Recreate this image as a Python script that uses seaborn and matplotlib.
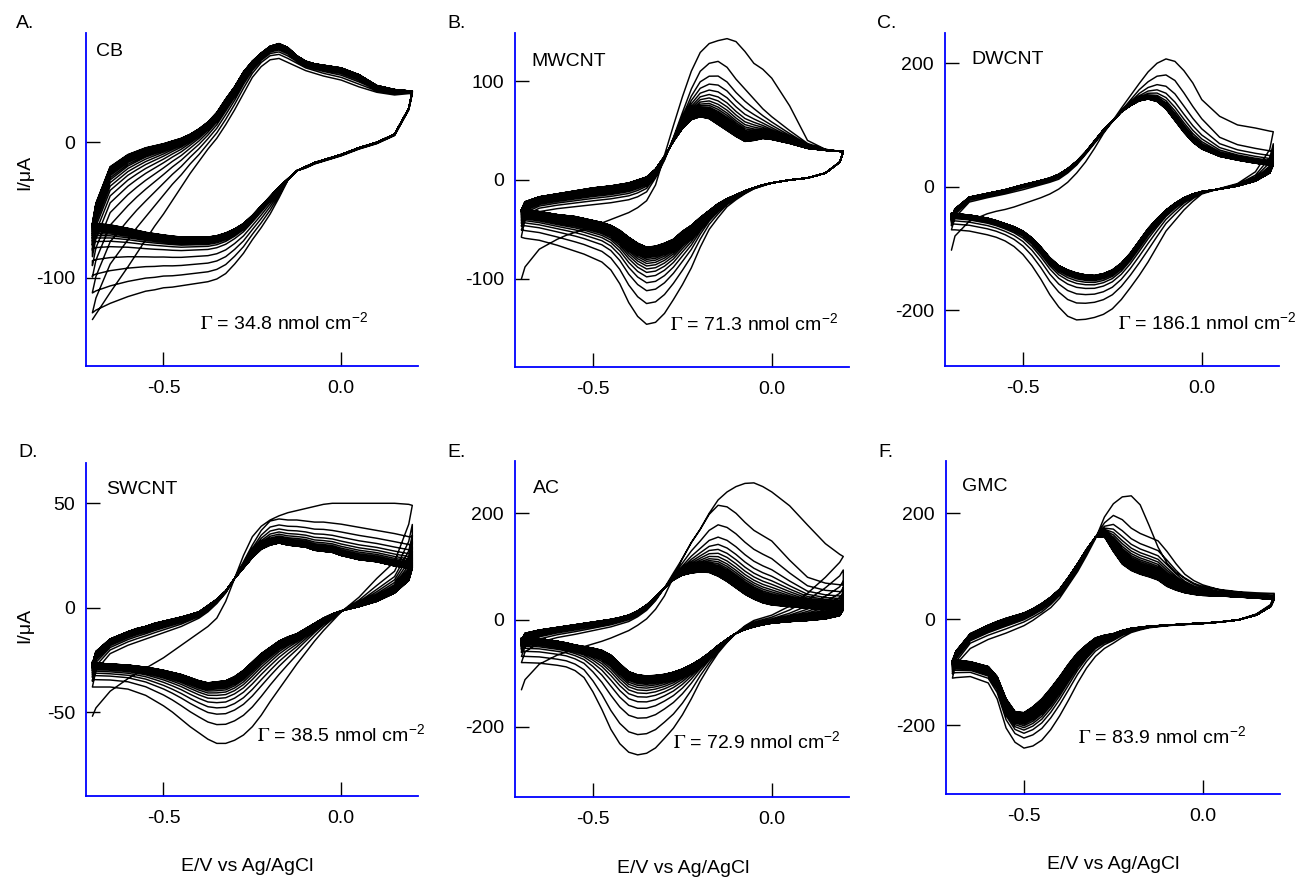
import numpy as np
import matplotlib
matplotlib.use("Agg")
import matplotlib.pyplot as plt
import seaborn as sns

# ---------------- data ----------------
# potential grid (V vs Ag/AgCl); forward sweeps use it as is, reverse sweeps reversed
E_GRID = [-0.70, -0.69, -0.65, -0.60, -0.575, -0.55, -0.525, -0.50, -0.475, -0.45, -0.425,
          -0.40, -0.375, -0.35, -0.325, -0.30, -0.275, -0.25, -0.225, -0.20, -0.175, -0.15,
          -0.125, -0.10, -0.075, -0.05, -0.025, 0.00, 0.05, 0.10, 0.15, 0.19, 0.20]

# A. CB  (currents in uA); *_rev_* lists run from +0.20 V back to -0.70 V
a_fwd_first = [-131, -127, -111, -92, -82, -72, -62, -53, -43, -33, -23, -14, -5, 3, 13, 24, 36, 48, 56, 61,
               62, 59, 56, 53, 51, 49, 47.5, 46, 41, 37, 35, 36, 36]
a_fwd_second = [-126, -115, -90, -72, -63, -55, -47, -39, -31, -24, -16, -9, -1, 7, 17, 28, 40, 51, 59, 64,
                65, 62, 58.5, 55, 53, 51, 49.5, 48, 43, 38, 36, 37, 37]
a_fwd_last = [-60, -45, -18, -9, -6.5, -4, -2.5, -1, 1, 3, 6, 10, 15, 22, 32, 41, 52, 60, 66, 71,
              73, 70, 64, 60, 58, 57, 56, 55, 50, 42, 39, 38, 38]
a_rev_first = [36, 24, 5, -1, -5, -10, -12, -14, -16, -19, -21, -28, -41, -53, -63, -72, -82, -90, -97, -101,
               -103, -104, -105, -106, -107, -107.5, -109, -110, -112, -114, -119, -124, -126]
a_rev_last = [38, 25, 6, 0, -4, -9, -11, -13, -15, -18, -21, -27, -33, -40, -47, -54, -60, -64, -67, -69,
              -70, -70, -70, -70, -69.3, -68.5, -67.5, -66.5, -65, -63.5, -61, -60, -60]
a_ipa = [61, 64, 65.6, 66.8, 67.7, 68.4, 68.9, 69.3, 69.6, 69.85, 70.05, 70.2, 70.35, 70.47, 70.57,
         70.66, 70.73, 70.8, 70.85, 70.9, 70.94, 70.97, 71]
a_ipc = [-106, -98, -91, -85, -80, -77.5, -76, -75, -74.2, -73.5, -72.9, -72.4, -72, -71.6, -71.3,
         -71, -70.8, -70.6, -70.4, -70.3, -70.2, -70.1, -70]

# B. MWCNT
b_fwd_first = [-100, -88, -70, -60, -56, -53, -50, -47, -43.5, -40, -36.5, -33, -28, -21, -5, 25, 55, 84, 110, 129,
               138, 141, 143, 140, 130, 118, 112, 103, 75, 40, 31, 29, 29]
b_fwd_second = [-57, -40, -32, -29, -28, -27, -26, -25, -24, -23, -21.5, -20, -17, -12, 2, 20, 43, 68, 92, 110,
                118, 120, 114, 102, 92, 82, 72, 64, 50, 37, 31, 29, 29]
b_fwd_last = [-30, -22, -17, -14, -12.5, -11, -9.5, -8, -7, -6, -4.5, -3, 0, 3, 11, 24, 39, 52, 61, 64,
              62, 56, 50, 44, 39, 40, 42, 41, 37, 32, 30, 29, 29]
b_rev_first = [29, 18, 7, 2, 0, -3, -6, -9, -14, -20, -27, -38, -50, -68, -89, -106, -121, -135, -144, -146,
               -138, -124, -105, -91, -83, -79, -75, -72, -69, -66, -61, -59, -58]
b_rev_last = [29, 18, 7, 2, 0, -3, -5, -8, -11, -15, -19, -24, -31, -38, -46, -52, -60, -64, -67, -68,
              -64, -58, -51, -46, -43, -41, -39, -37, -36, -35, -32, -30, -30]
b_ipa = [141, 120, 107, 99, 93, 88.5, 85, 82, 79.5, 77.5, 75.7, 74.2, 72.8, 71.6, 70.5, 69.6, 68.8,
         68.1, 67.5, 67, 66.5, 66.1, 65.7, 65.3, 65, 64.7, 64.4, 64.2, 64]
b_ipc = [-146, -125, -112, -104, -98, -93.5, -90, -87, -84.5, -82.3, -80.4, -78.7, -77.2, -75.9, -74.7,
         -73.6, -72.7, -71.9, -71.2, -70.6, -70.1, -69.6, -69.2, -68.9, -68.6, -68.4, -68.2, -68.1, -68]

# C. DWCNT
c_fwd_first = [-103, -80, -56, -44, -40, -37, -33, -28, -23, -18, -12, -4, 7, 22, 40, 62, 86, 106, 127, 147,
               167, 186, 200, 207, 203, 188, 168, 141, 114, 100, 95, 90, 89]
c_fwd_second = [-70, -50, -25, -18, -15, -12, -8.5, -5, -1, 3, 7, 12, 22, 35, 52, 70, 88, 105, 123, 140,
                157, 170, 179, 181, 172, 152, 130, 110, 80, 68, 62, 58, 58]
c_fwd_last = [-50, -36, -17, -11, -8, -5, -1, 3, 6.5, 10, 14, 20, 29, 41, 56, 74, 92, 106, 121, 131,
              139, 142, 138, 126, 107, 88, 72, 61, 49, 43, 38, 35, 35]
c_rev_first = [89, 60, 24, 5, -3, -12, -24, -38, -55, -72, -97, -122, -144, -164, -183, -198, -207, -212, -215, -216,
               -210, -195, -175, -150, -128, -110, -97, -88, -82, -78, -72, -70, -70]
c_rev_last = [35, 22, 9, 1, -4, -8, -12, -18, -27, -38, -52, -68, -88, -108, -124, -135, -141, -144, -143, -140,
              -135, -128, -115, -98, -83, -72, -65, -60, -55, -51, -46, -44, -43]
c_ipa = [208, 181, 168, 160, 155, 151.5, 149, 147.8, 146.8, 146, 145.3, 144.7, 144.2, 143.8, 143.4,
         143.1, 142.8, 142.5, 142.3, 142.1, 142]
c_ipc = [-216, -190, -176, -166, -160, -156, -153, -151.3, -150, -148.9, -148, -147.2, -146.5, -145.9,
         -145.4, -145, -144.7, -144.4, -144.2, -144.1, -144]

# D. SWCNT
d_fwd_first = [-52, -48, -40, -34, -31.5, -29, -26.5, -24, -21, -18, -15, -12, -9, -5, 3, 14, 25, 34, 39, 42,
               44, 45.5, 46.5, 47.5, 48.5, 49.5, 50, 50, 50, 50, 50, 49.5, 49]
d_fwd_second = [-38, -30, -22, -18, -16.5, -15, -13.5, -12, -10.5, -9, -7, -5, -2, 2, 7, 14, 22, 30, 37, 41.5,
                42.5, 42, 42, 41.5, 41, 41, 40.5, 40, 38.5, 37, 35.5, 34, 34]
d_fwd_last = [-27, -21, -15, -11.5, -10, -9, -7.5, -6.5, -5.5, -4.5, -3.3, -2, 1, 4, 8, 14, 19, 24, 28, 30,
              31, 30, 29.5, 29, 27.5, 27, 26.5, 25, 23, 22, 20, 19, 19]
d_rev_first = [49, 40, 22, 14, 5, -2, -6.5, -11, -16, -21.5, -27, -33, -39, -45, -51.5, -57, -61, -63.5, -65, -65,
               -63, -60, -57, -53.5, -50, -47, -44.5, -42, -40.5, -39, -38, -38, -38]
d_rev_last = [19, 13, 7, 3, 0.5, -1.5, -3, -5, -7.5, -10, -12.5, -14, -16, -19, -22, -26, -30, -33, -35, -35.5,
              -36, -35, -33.5, -32, -31, -30, -29.2, -28.5, -28, -27.5, -27, -26.5, -26]
d_ipa = [50, 42, 39, 37, 35.5, 34.4, 33.5, 32.8, 32.2, 31.7, 31.3, 31, 30.8, 30.6, 30.45, 30.3, 30.2,
         30.12, 30.07, 30.03, 30.01, 30]
d_ipc = [-65, -56, -51, -48, -45.5, -43.5, -42, -40.8, -39.8, -39, -38.3, -37.7, -37.2, -36.8, -36.5,
         -36.2, -36, -35.85, -35.7, -35.6, -35.55, -35.5]

# E. AC
e_fwd_first = [-131, -112, -83, -66, -60, -55, -50, -45, -40, -34, -27, -20, -10, 2, 20, 45, 80, 115, 145, 170,
               200, 225, 240, 250, 256, 257, 250, 240, 214, 178, 143, 123, 119]
e_fwd_second = [-80, -60, -42, -33, -30, -27, -23.5, -20, -16.5, -13, -8, -3, 6, 18, 36, 60, 88, 115, 145, 170,
                198, 215, 212, 200, 183, 168, 158, 148, 112, 80, 69, 66, 66]
e_fwd_last = [-38, -25, -19, -14, -11.5, -9, -6.5, -4, -1.5, 1, 4.5, 9, 17, 28, 43, 60, 75, 84, 88, 90,
              89, 82, 72, 60, 48, 39, 32, 28, 25, 22, 20, 19, 19]
e_rev_first = [119, 108, 80, 50, 26, 9, 4, -1, -11, -25, -42, -62, -87, -115, -148, -178, -203, -222, -240, -250,
               -253, -248, -232, -205, -168, -135, -108, -95, -88, -85, -81, -80, -80]
e_rev_last = [19, 8, 2, -1, -3, -6, -9, -13, -18, -25, -36, -48, -62, -74, -84, -92, -98, -102, -104, -105,
              -103, -97, -82, -66, -57, -53, -50, -47, -43, -40, -35, -34, -34]
e_ipa = [257, 215, 180, 158, 145, 136, 129, 123, 118, 114, 110.5, 107.5, 105, 102.8, 100.8, 99, 97.4,
         96, 94.7, 93.5, 92.4, 91.5, 90.7, 90, 89.4, 88.8, 88.4, 88]
e_ipc = [-250, -213, -183, -165, -153, -144, -137, -131.5, -127, -123.2, -120, -117.3, -115, -113,
         -111.3, -109.8, -108.6, -107.6, -106.8, -106.2, -105.7, -105.3, -105, -104.8, -104.6, -104.4,
         -104.2, -104]

# F. GMC
f_fwd_first = [-100, -85, -55, -38, -32, -26, -19, -12, -2, 10, 22, 40, 65, 90, 120, 152, 193, 218, 231, 233,
               216, 177, 136, 106, 88, 78, 68, 62, 56, 52, 50, 49, 49]
f_fwd_second = [-111, -80, -45, -30, -24, -18, -11.5, -5, 4, 14, 28, 45, 68, 94, 125, 155, 182, 196, 188, 172,
                162, 155, 148, 128, 105, 85, 73, 65, 55, 51, 48, 46, 46]
f_fwd_last = [-78, -60, -27, -11, -4, 2, 7, 12, 20, 30, 42, 57, 80, 105, 132, 155, 156, 128, 104, 92,
              85, 80, 74, 62, 55, 50, 47, 45, 44, 42, 40, 38, 38]
f_rev_first = [49, 28, 10, -1, -5, -8, -9, -10, -11, -12, -14, -16, -20, -25, -34, -45, -55, -70, -92, -120,
               -152, -182, -208, -228, -239, -243, -232, -205, -150, -120, -108, -110, -111]
f_rev_last = [38, 24, 8, -1, -5, -7.5, -8, -9, -10, -11, -12, -13, -15, -17, -21, -27, -30, -35, -48, -63,
              -84, -108, -130, -150, -165, -176, -174, -150, -108, -89, -80, -77, -77]
f_ipa = [231, 196, 185.8, 180.4, 176.7, 173.9, 171.4, 169.4, 167.7, 166.1, 164.8, 163.6, 162.4, 161.6,
         160.7, 159.9, 159.1, 158.5, 157.9, 157.5, 157, 156.6, 156.2, 155.8, 155.4, 155]
f_ipc = [-243, -224, -215, -209, -204.5, -200.8, -197.7, -195, -192.7, -190.7, -189, -187.5, -186.2,
         -185, -183.9, -182.9, -182, -181.1, -180.3, -179.5, -178.8, -178.1, -177.5, -177, -176.5, -176]

LETTERS = ["A.", "B.", "C.", "D.", "E.", "F."]
NAMES = ["CB", "MWCNT", "DWCNT", "SWCNT", "AC", "GMC"]
GAMMAS = ["34.8", "71.3", "186.1", "38.5", "72.9", "83.9"]
YTICKS = [[0, -100], [100, 0, -100], [200, 0, -200], [50, 0, -50], [200, 0, -200], [200, 0, -200]]
XTICKS = [-0.5, 0.0]
XTICKLABELS = ["-0.5", "0.0"]

SERIES = [
    (a_fwd_first, a_fwd_second, a_fwd_last, a_rev_first, a_rev_last, a_ipa, a_ipc),
    (b_fwd_first, b_fwd_second, b_fwd_last, b_rev_first, b_rev_last, b_ipa, b_ipc),
    (c_fwd_first, c_fwd_second, c_fwd_last, c_rev_first, c_rev_last, c_ipa, c_ipc),
    (d_fwd_first, d_fwd_second, d_fwd_last, d_rev_first, d_rev_last, d_ipa, d_ipc),
    (e_fwd_first, e_fwd_second, e_fwd_last, e_rev_first, e_rev_last, e_ipa, e_ipc),
    (f_fwd_first, f_fwd_second, f_fwd_last, f_rev_first, f_rev_last, f_ipa, f_ipc),
]

# ---------------- layout ----------------
W, H = 1311, 882
AX_PX = [(86, 33, 418, 366), (515, 33, 849, 367), (945, 33, 1279, 366),
         (86, 463, 418, 796), (515, 461, 849, 797), (946, 461, 1280, 794)]
YLIMS = [(-165.3, 80.8), (-189.2, 148.7), (-290.7, 249), (-90.2, 69.3), (-332, 298), (-329.6, 298.7)]
XLIM = (-0.718, 0.216)
NAME_POS = [(0.03, 0.943), (0.05, 0.916), (0.08, 0.92), (0.06, 0.919), (0.055, 0.917), (0.048, 0.923)]
GAMMA_POS = [(0.343, 0.129), (0.464, 0.13), (0.518, 0.13), (0.515, 0.183), (0.473, 0.164), (0.395, 0.171)]
LETTER_PX = [(16, 23), (447, 23), (877, 23), (18, 452), (447, 452), (878, 452)]
YLABEL_Y = {0: 0.58, 3: 0.513}
XLABEL_X = {3: 0.485, 4: 0.503, 5: 0.5}

sns.set_theme(style="white")
plt.rcParams["font.family"] = ["Liberation Sans", "DejaVu Sans"]
plt.rcParams["mathtext.fontset"] = "stix"
plt.rcParams["axes.unicode_minus"] = False
for key in ("text.color", "axes.labelcolor", "xtick.color", "ytick.color"):
    plt.rcParams[key] = "black"

FS = 14
BLUE = "#0000FF"


def cycle_trace(fwd_first, fwd_second, fwd_last, rev_first, rev_last, ipa, ipc):
    e_f = np.asarray(E_GRID, dtype=float)
    e_r = e_f[::-1]
    arrs = [np.asarray(v, dtype=float) for v in (fwd_first, fwd_second, fwd_last, rev_first, rev_last)]
    for a in arrs:
        if len(a) != len(e_f):
            raise ValueError("length mismatch %d" % len(a))
    if len(ipa) != len(ipc):
        raise ValueError("cycle list mismatch")
    ff, fs, fl, rf, rl = arrs
    xs, ys = [], []
    for k in range(len(ipa)):
        if k == 0:
            fwd = ff
        else:
            w = (ipa[k] - ipa[-1]) / (ipa[1] - ipa[-1])
            fwd = fl + w * (fs - fl)
        wr = (ipc[k] - ipc[-1]) / (ipc[0] - ipc[-1])
        rev = rl + wr * (rf - rl)
        xs += [e_f, e_r]
        ys += [fwd, rev]
    return np.concatenate(xs), np.concatenate(ys)


fig = plt.figure(figsize=(W / 100, H / 100), dpi=100)
fig.patch.set_facecolor("white")

for i in range(6):
    x0, y0, x1, y1 = AX_PX[i]
    ax = fig.add_axes([x0 / W, 1 - y1 / H, (x1 - x0) / W, (y1 - y0) / H])
    ax.set_facecolor("white")
    ex, iy = cycle_trace(*SERIES[i])
    sns.lineplot(x=ex, y=iy, sort=False, estimator=None, errorbar=None,
                 color="black", linewidth=1.05, ax=ax)
    ax.set_xlim(*XLIM)
    ax.set_ylim(*YLIMS[i])
    ax.set_xticks(XTICKS)
    ax.set_xticklabels(XTICKLABELS)
    ax.set_yticks(YTICKS[i])
    ax.set_yticklabels([str(v) for v in YTICKS[i]])
    for s in ("top", "right"):
        ax.spines[s].set_visible(False)
    for s in ("left", "bottom"):
        ax.spines[s].set_color(BLUE)
        ax.spines[s].set_linewidth(1.3)
    ax.tick_params(axis="both", which="major", direction="in", length=10, width=1.0,
                   color="black", labelsize=FS, labelcolor="black",
                   left=True, bottom=True, right=False, top=False)
    ax.tick_params(axis="x", pad=10)
    ax.tick_params(axis="y", pad=8)
    ax.grid(False)
    ax.set_xlabel("")
    ax.set_ylabel("")
    ax.text(*NAME_POS[i], NAMES[i], transform=ax.transAxes, ha="left", va="center",
            fontsize=FS, color="black")
    ax.text(*GAMMA_POS[i], r"$\mathrm{\Gamma}$ = " + GAMMAS[i] + r" nmol cm$^{\mathregular{-2}}$",
            transform=ax.transAxes, ha="left", va="center", fontsize=FS, color="black")
    lx, ly = LETTER_PX[i]
    fig.text(lx / W, 1 - ly / H, LETTERS[i], ha="left", va="center", fontsize=FS, color="black")
    if i in YLABEL_Y:
        ax.set_ylabel("I/\u03bcA", fontsize=FS, color="black", ha="center", va="center")
        ax.yaxis.set_label_coords(-0.184, YLABEL_Y[i])
    if i in XLABEL_X:
        ax.set_xlabel("E/V vs Ag/AgCl", fontsize=FS, color="black", ha="center", va="center")
        ax.xaxis.set_label_coords(XLABEL_X[i], -0.213)

fig.savefig("out.png", dpi=100, facecolor="white")
